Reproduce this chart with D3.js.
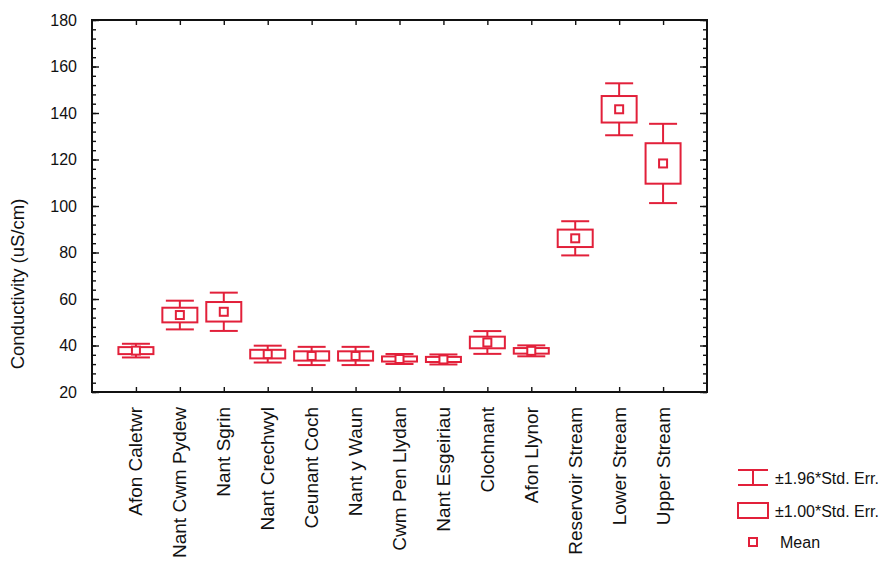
<!DOCTYPE html>
<html>
<head>
<meta charset="utf-8">
<script src="https://cdn.jsdelivr.net/npm/d3@7"></script>
<style>
  html, body { margin: 0; padding: 0; background: #ffffff; }
  svg { display: block; font-family: "Liberation Sans", Arial, sans-serif; }
</style>
</head>
<body>
<svg id="chart" width="890" height="561"></svg>
<script>
// Sampling sites
const sites = [
  "Afon Caletwr", "Nant Cwm Pydew", "Nant Sgrin", "Nant Crechwyl",
  "Ceunant Coch", "Nant y Waun", "Cwm Pen Llydan", "Nant Esgeiriau",
  "Clochnant", "Afon Llynor", "Reservoir Stream", "Lower Stream", "Upper Stream"
];
// Mean conductivity (uS/cm) per site
const meanValues = [37.8, 53.1, 54.5, 36.3, 35.5, 35.5, 34.2, 34.0, 41.3, 37.7, 86.1, 141.6, 118.3];
// Standard error of the mean per site
const stdErrValues = [1.5, 3.15, 4.2, 1.85, 2.0, 2.0, 1.1, 1.1, 2.5, 1.2, 3.75, 5.7, 8.7];
// Y axis tick labels
const yTicks = [20, 40, 60, 80, 100, 120, 140, 160, 180];
// Legend entries
const legendLabels = ["\u00b11.96*Std. Err.", "\u00b11.00*Std. Err.", "Mean"];

const RED = "#e2203a";
const svg = d3.select("#chart");

const plot = { left: 92, right: 707, top: 20, bottom: 392 };

const x = d3.scalePoint()
  .domain(sites)
  .range([plot.left, plot.right])
  .padding(1);

const y = d3.scaleLinear()
  .domain([20, 180])
  .range([plot.bottom, plot.top]);

const data = sites.map((s, i) => ({ site: s, mean: meanValues[i], se: stdErrValues[i] }));

// Frame ticks drawn inward, using d3 axes
const minorTicks = d3.range(20, 180.1, 4);

function styleTicks(g) {
  g.select(".domain").remove();
  g.selectAll("line").attr("stroke", "#111").attr("stroke-width", 1.4);
}

svg.append("g").attr("transform", `translate(${plot.left},0)`)
  .call(d3.axisLeft(y).tickValues(minorTicks).tickSize(-4).tickFormat("")).call(styleTicks);
svg.append("g").attr("transform", `translate(${plot.left},0)`)
  .call(d3.axisLeft(y).tickValues(yTicks).tickSize(-7).tickFormat("")).call(styleTicks);
svg.append("g").attr("transform", `translate(${plot.right},0)`)
  .call(d3.axisRight(y).tickValues(minorTicks).tickSize(-4).tickFormat("")).call(styleTicks);
svg.append("g").attr("transform", `translate(${plot.right},0)`)
  .call(d3.axisRight(y).tickValues(yTicks).tickSize(-7).tickFormat("")).call(styleTicks);
svg.append("g").attr("transform", `translate(0,${plot.top})`)
  .call(d3.axisTop(x).tickSize(-5).tickFormat("")).call(styleTicks);
svg.append("g").attr("transform", `translate(0,${plot.bottom})`)
  .call(d3.axisBottom(x).tickSize(-5).tickFormat("")).call(styleTicks);

// Y tick labels
svg.append("g").selectAll("text").data(yTicks).join("text")
  .attr("x", 77)
  .attr("y", d => y(d))
  .attr("dy", "0.36em")
  .attr("text-anchor", "end")
  .attr("font-size", 16)
  .attr("fill", "#111")
  .text(d => d);

// Category labels, rotated
svg.append("g").selectAll("text").data(sites).join("text")
  .attr("transform", d => `translate(${x(d) + 6.5},${plot.bottom + 15}) rotate(-90)`)
  .attr("text-anchor", "end")
  .attr("font-size", 19)
  .attr("fill", "#111")
  .text(d => d);

// Y axis title
svg.append("text")
  .attr("transform", "translate(24,284) rotate(-90)")
  .attr("text-anchor", "middle")
  .attr("font-size", 18.5)
  .attr("fill", "#111")
  .text("Conductivity (uS/cm)");

// Plot frame
svg.append("rect")
  .attr("x", plot.left).attr("y", plot.top)
  .attr("width", plot.right - plot.left).attr("height", plot.bottom - plot.top)
  .attr("fill", "none").attr("stroke", "#111").attr("stroke-width", 2);

// Box & whisker marks
const boxW = 35, capW = 28, meanS = 8;
const g = svg.append("g").attr("stroke", RED).attr("stroke-width", 2).attr("fill", "none");
const grp = g.selectAll("g").data(data).join("g");

grp.append("line") // whisker stem
  .attr("x1", d => x(d.site)).attr("x2", d => x(d.site))
  .attr("y1", d => y(d.mean + 1.96 * d.se)).attr("y2", d => y(d.mean - 1.96 * d.se));
grp.append("line") // upper cap
  .attr("x1", d => x(d.site) - capW / 2).attr("x2", d => x(d.site) + capW / 2)
  .attr("y1", d => y(d.mean + 1.96 * d.se)).attr("y2", d => y(d.mean + 1.96 * d.se));
grp.append("line") // lower cap
  .attr("x1", d => x(d.site) - capW / 2).attr("x2", d => x(d.site) + capW / 2)
  .attr("y1", d => y(d.mean - 1.96 * d.se)).attr("y2", d => y(d.mean - 1.96 * d.se));
grp.append("rect") // ±1 SE box
  .attr("x", d => x(d.site) - boxW / 2)
  .attr("y", d => y(d.mean + d.se))
  .attr("width", boxW)
  .attr("height", d => y(d.mean - d.se) - y(d.mean + d.se))
  .attr("fill", "#fff");
grp.append("rect") // mean marker
  .attr("x", d => x(d.site) - meanS / 2)
  .attr("y", d => y(d.mean) - meanS / 2)
  .attr("width", meanS).attr("height", meanS)
  .attr("fill", "#fff");

// Legend
const lg = svg.append("g");
const lx = 738, lw = 30;
// whisker symbol
lg.append("line").attr("x1", lx).attr("x2", lx + lw).attr("y1", 470).attr("y2", 470).attr("stroke", RED).attr("stroke-width", 2);
lg.append("line").attr("x1", lx).attr("x2", lx + lw).attr("y1", 485).attr("y2", 485).attr("stroke", RED).attr("stroke-width", 2);
lg.append("line").attr("x1", lx + lw / 2).attr("x2", lx + lw / 2).attr("y1", 470).attr("y2", 485).attr("stroke", RED).attr("stroke-width", 2);
// box symbol
lg.append("rect").attr("x", lx).attr("y", 503).attr("width", lw).attr("height", 15)
  .attr("fill", "none").attr("stroke", RED).attr("stroke-width", 2);
// mean symbol
lg.append("rect").attr("x", 749).attr("y", 538).attr("width", 8).attr("height", 8)
  .attr("fill", "none").attr("stroke", RED).attr("stroke-width", 2);

const legendY = [478, 511, 542];
const legendX = [775, 775, 780];
lg.selectAll("text").data(legendLabels).join("text")
  .attr("x", (d, i) => legendX[i])
  .attr("y", (d, i) => legendY[i])
  .attr("dy", "0.36em")
  .attr("font-size", 16)
  .attr("fill", "#111")
  .text(d => d);
</script>
</body>
</html>
